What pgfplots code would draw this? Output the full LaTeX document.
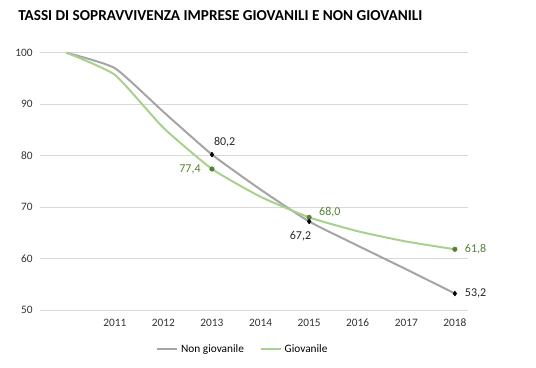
\documentclass[border=0pt]{standalone}
\usepackage{pgfplots}
\pgfplotsset{compat=1.18}
\usepackage{fontspec}
\setmainfont{Carlito}
\definecolor{grayline}{HTML}{A5A5A5}
\definecolor{greenline}{HTML}{A9D18E}
\definecolor{greendark}{HTML}{548235}
\definecolor{gridc}{HTML}{D9D9D9}
\begin{document}
\begin{tikzpicture}
\path[use as bounding box] (0,0) rectangle (402pt,276pt);
\node[anchor=west,inner sep=0pt,font=\bfseries\fontsize{11.4}{13}\selectfont] at (13.5pt,264.5pt) {TASSI DI SOPRAVVIVENZA IMPRESE GIOVANILI E NON GIOVANILI};
\begin{axis}[
  at={(30pt,43.5pt)}, anchor=south west,
  scale only axis, width=321pt, height=193pt,
  xmin=2009.46, xmax=2018.27, ymin=50, ymax=100,
  axis line style={draw=none},
  ytick={50,60,...,100},
  xtick={2011,...,2018},
  xticklabels={2011,2012,2013,2014,2015,2016,2017,2018},
  ymajorgrids, grid style={gridc, line width=0.6pt},
  major tick length=0pt,
  tick label style={font=\fontsize{8.5}{10}\selectfont, text=black!80},
  /pgf/number format/assume math mode=true,
  /pgf/number format/1000 sep={},
  yticklabel style={xshift=-2pt},
  xticklabel style={yshift=-3pt},
  legend style={at={(axis description cs:0.475,-0.152)}, anchor=center, draw=none, legend columns=2, font=\fontsize{8.5}{10}\selectfont, column sep=0pt, /tikz/every even column/.append style={column sep=10pt}},
  legend image code/.code={\draw[#1] (0pt,0pt) -- (15pt,0pt);},
  clip=false,
]
\addplot[grayline, line width=1.5pt, smooth, tension=0.3] coordinates {
(2010,100) (2011,97.0) (2012,88.5) (2013,80.2) (2014,73.4) (2015,67.2) (2016,62.5) (2017,57.9) (2018,53.2)};
\addlegendentry{Non giovanile}
\addplot[greenline, line width=1.5pt, smooth, tension=0.3] coordinates {
(2010,100) (2011,95.7) (2012,85.4) (2013,77.4) (2014,72.0) (2015,68.0) (2016,65.3) (2017,63.3) (2018,61.8)};
\addlegendentry{Giovanile}
\addplot[only marks, mark=*, mark size=1.7pt, greendark, forget plot] coordinates {(2013,77.4) (2015,68.0) (2018,61.8)};
\addplot[only marks, mark=diamond*, mark size=1.8pt, black, forget plot] coordinates {(2013,80.2) (2015,67.2) (2018,53.2)};
\node[font=\fontsize{9}{10}\selectfont, anchor=south west, black!85] at (axis cs:2013,80.2) [xshift=-2pt,yshift=2pt] {80,2};
\node[font=\fontsize{9}{10}\selectfont, anchor=east, greendark] at (axis cs:2013,77.4) [xshift=-5pt] {77,4};
\node[font=\fontsize{9}{10}\selectfont, anchor=south west, greendark] at (axis cs:2015,68.0) [xshift=4pt,yshift=-3pt] {68,0};
\node[font=\fontsize{9}{10}\selectfont, anchor=north east, black!85] at (axis cs:2015,67.2) [xshift=5pt,yshift=-4pt] {67,2};
\node[font=\fontsize{9}{10}\selectfont, anchor=west, greendark] at (axis cs:2018,61.8) [xshift=4pt] {61,8};
\node[font=\fontsize{9}{10}\selectfont, anchor=west, black!85] at (axis cs:2018,53.2) [xshift=4pt] {53,2};
\end{axis}
\end{tikzpicture}
\end{document}
